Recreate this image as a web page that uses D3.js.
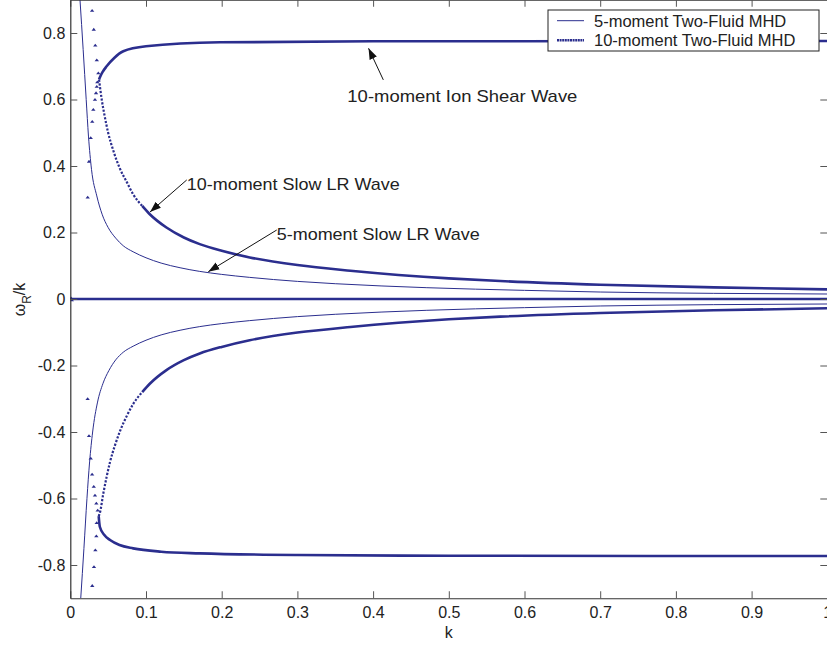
<!DOCTYPE html>
<html>
<head>
<meta charset="utf-8">
<script src="https://cdn.jsdelivr.net/npm/d3@7"></script>
<style>
  html, body { margin: 0; padding: 0; background: #fff; }
  svg { display: block; }
  text { font-family: "Liberation Sans", Arial, sans-serif; fill: #222; }
</style>
</head>
<body>
<svg id="chart" width="827" height="647"></svg>
<script>
// ----------------------------
// Data: [k, omega_R/k]
// ----------------------------
const fiveUpper = [[0.0128,0.9],[0.017,0.75],[0.021,0.6],[0.024,0.49],[0.028,0.39],[0.035,0.31],
  [0.042,0.255],[0.05,0.215],[0.06,0.183],[0.07,0.16],[0.083,0.142],[0.1,0.124],[0.12,0.108],
  [0.145,0.094],[0.171,0.083],[0.2,0.074],[0.237,0.065],[0.3,0.053],[0.35,0.046],[0.471,0.034],
  [0.6,0.026],[0.7,0.021],[0.85,0.017],[1.0,0.015]];
const fiveLower = [[0.0138,-0.9],[0.018,-0.75],[0.022,-0.6],[0.0255,-0.49],[0.0295,-0.40],[0.036,-0.31],
  [0.043,-0.255],[0.051,-0.215],[0.06,-0.183],[0.07,-0.16],[0.083,-0.142],[0.1,-0.124],[0.12,-0.108],
  [0.145,-0.094],[0.171,-0.083],[0.2,-0.074],[0.237,-0.065],[0.3,-0.053],[0.35,-0.046],[0.471,-0.034],
  [0.6,-0.026],[0.7,-0.021],[0.85,-0.017],[1.0,-0.015]];
const fiveZero = [[0,0],[1,0]];

const tenShearUpper = [[0.038,0.66],[0.039,0.666],[0.043,0.684],[0.048,0.70],[0.058,0.725],[0.07,0.745],
  [0.1,0.76],[0.198,0.772],[0.4,0.775],[1.0,0.776]];
const tenShearLower = [[0.0375,-0.653],[0.039,-0.685],[0.045,-0.71],[0.0525,-0.725],[0.065,-0.74],
  [0.083,-0.75],[0.12,-0.76],[0.171,-0.765],[0.3,-0.77],[0.5,-0.772],[1.0,-0.773]];
const tenSlowUpper = [[0.038,0.66],[0.0415,0.60],[0.045,0.555],[0.05,0.50],[0.057,0.445],[0.065,0.395],
  [0.075,0.35],[0.083,0.315],[0.095,0.28],[0.105,0.255],[0.127,0.215],[0.15,0.185],[0.171,0.165],
  [0.2,0.145],[0.237,0.125],[0.3,0.102],[0.37,0.085],[0.5,0.062],[0.568,0.054],[0.7,0.043],
  [0.85,0.035],[1.0,0.029]];
const tenSlowLower = [[0.0375,-0.653],[0.039,-0.644],[0.0436,-0.585],[0.048,-0.535],[0.0525,-0.49],
  [0.059,-0.44],[0.0657,-0.397],[0.075,-0.35],[0.0833,-0.315],[0.095,-0.28],[0.105,-0.255],
  [0.127,-0.214],[0.15,-0.184],[0.171,-0.164],[0.2,-0.144],[0.237,-0.124],[0.3,-0.101],
  [0.37,-0.084],[0.5,-0.061],[0.568,-0.053],[0.7,-0.042],[0.85,-0.034],[1.0,-0.028]];
const tenZero = [[0,0],[1,0]];

// sparse points of the 10-moment run at very small k
const tenDots = [[0.0288,0.868],[0.031,0.811],[0.033,0.763],[0.035,0.719],[0.037,0.68],[0.0357,0.653],
  [0.035,0.639],[0.034,0.62],[0.0326,0.6],[0.0304,0.57],[0.029,0.534],[0.027,0.485],[0.0247,0.414],
  [0.023,0.306],
  [0.0229,-0.30],[0.0247,-0.411],[0.027,-0.479],[0.0288,-0.527],[0.031,-0.564],[0.0326,-0.59],
  [0.0344,-0.614],[0.0362,-0.635],[0.0349,-0.673],[0.0344,-0.713],[0.0331,-0.755],[0.0313,-0.805],
  [0.029,-0.862],[0.001,0.003],[0.002,-0.003]];

// k below which the 10-moment points are spread apart (drawn dotted)
const sparseBelow = 0.09;

const xTicks = [0,0.1,0.2,0.3,0.4,0.5,0.6,0.7,0.8,0.9,1];
const yTicks = [-0.8,-0.6,-0.4,-0.2,0,0.2,0.4,0.6,0.8];

const legendLabels = ["5-moment Two-Fluid MHD", "10-moment Two-Fluid MHD"];

// annotations: tip, tail and text anchor in data units
const notes = [
  { text: "10-moment Ion Shear Wave", tip: [0.394,0.754], tail: [0.4135,0.659], at: [0.366,0.592], w: 230 },
  { text: "10-moment Slow LR Wave",   tip: [0.1053,0.2617], tail: [0.1538,0.358], at: [0.1538,0.329], w: 213 },
  { text: "5-moment Slow LR Wave",    tip: [0.1823,0.0821], tail: [0.2727,0.2075], at: [0.2727,0.176], w: 203 }
];

// ----------------------------
// Plotting
// ----------------------------
const svg = d3.select("#chart");
const blue = "#2b2e8e";

const x = d3.scaleLinear().domain([0, 1]).range([70.3, 827.3]);
const y = d3.scaleLinear().domain([-0.9, 0.9]).range([598.25, -0.25]);

svg.append("defs").append("clipPath").attr("id", "plotclip")
  .append("rect")
    .attr("x", x(0)).attr("y", y(0.9))
    .attr("width", x(1) - x(0)).attr("height", y(-0.9) - y(0.9));

svg.select("defs").append("marker")
    .attr("id", "arrowhead")
    .attr("viewBox", "0 -5 10 10")
    .attr("refX", 10)
    .attr("refY", 0)
    .attr("markerWidth", 11)
    .attr("markerHeight", 11)
    .attr("markerUnits", "userSpaceOnUse")
    .attr("orient", "auto")
  .append("path")
    .attr("d", "M0,-3.6L10,0L0,3.6Z")
    .attr("fill", "#111");

const line = d3.line()
    .x(d => x(d[0]))
    .y(d => y(d[1]))
    .curve(d3.curveMonotoneX);

const plot = svg.append("g").attr("clip-path", "url(#plotclip)");

// 10-moment (thick)
[tenZero, tenShearUpper, tenShearLower].forEach(s => {
  plot.append("path")
      .datum(s)
      .attr("fill", "none")
      .attr("stroke", blue)
      .attr("stroke-width", 2.6)
      .attr("d", line);
});
[tenSlowUpper, tenSlowLower].forEach(s => {
  // steep part: sparse points
  plot.append("path")
      .datum(s.filter(d => d[0] <= sparseBelow + 0.006))
      .attr("fill", "none")
      .attr("stroke", blue)
      .attr("stroke-width", 2.2)
      .attr("stroke-dasharray", "2.2,1.6")
      .attr("d", line);
  plot.append("path")
      .datum(s.filter(d => d[0] >= sparseBelow))
      .attr("fill", "none")
      .attr("stroke", blue)
      .attr("stroke-width", 2.6)
      .attr("d", line);
});

plot.selectAll("path.dot")
  .data(tenDots)
  .join("path")
    .attr("class", "dot")
    .attr("transform", d => `translate(${x(d[0])},${y(d[1])})`)
    .attr("d", "M-2.2,1.3L0,-1.5L2.2,1.3Z")
    .attr("fill", blue);

// 5-moment (thin)
[fiveZero, fiveUpper, fiveLower].forEach(s => {
  plot.append("path")
      .datum(s)
      .attr("fill", "none")
      .attr("stroke", blue)
      .attr("stroke-width", 1)
      .attr("d", line);
});

// Axes
const fmt = d => d === 0 ? "0" : (d === 1 ? "1" : d3.format(".1f")(d).replace("\u2212", "-"));

const axB = svg.append("g").attr("transform", `translate(0,${y(-0.9)})`)
  .call(d3.axisBottom(x).tickValues(xTicks).tickFormat(fmt).tickSizeInner(-7).tickSizeOuter(0).tickPadding(8));
const axT = svg.append("g").attr("transform", `translate(0,${y(0.9)})`)
  .call(d3.axisTop(x).tickValues(xTicks).tickFormat("").tickSizeInner(-7).tickSizeOuter(0));
const axL = svg.append("g").attr("transform", `translate(${x(0)},0)`)
  .call(d3.axisLeft(y).tickValues(yTicks).tickFormat(fmt).tickSizeInner(-7).tickSizeOuter(0).tickPadding(5));
const axR = svg.append("g").attr("transform", `translate(${x(1)},0)`)
  .call(d3.axisRight(y).tickValues(yTicks).tickFormat("").tickSizeInner(-7).tickSizeOuter(0));

[axB, axT, axL, axR].forEach(a => {
  a.select(".domain").attr("stroke", "#333").attr("stroke-width", 1.2);
  a.selectAll(".tick line").attr("stroke", "#555");
  a.selectAll("text").attr("font-size", 16).attr("fill", "#222")
    .attr("font-family", "'Liberation Sans', Arial, sans-serif");
});

// axis titles
svg.append("text")
    .attr("x", x(0.5))
    .attr("y", 638)
    .attr("text-anchor", "middle")
    .attr("font-size", 16)
    .text("k");

const yl = svg.append("text")
    .attr("transform", "translate(25,299.5) rotate(-90)")
    .attr("text-anchor", "middle")
    .attr("font-size", 16);
yl.append("tspan").text("\u03c9");
yl.append("tspan").attr("font-size", 12).attr("dy", 6).text("R");
yl.append("tspan").attr("dy", -6).text("/k");

// annotations
notes.forEach(n => {
  svg.append("line")
      .attr("x1", x(n.tail[0])).attr("y1", y(n.tail[1]))
      .attr("x2", x(n.tip[0])).attr("y2", y(n.tip[1]))
      .attr("stroke", "#111")
      .attr("stroke-width", 1)
      .attr("marker-end", "url(#arrowhead)");
  svg.append("text")
      .attr("x", x(n.at[0]))
      .attr("y", y(n.at[1]))
      .attr("font-size", 17)
      .attr("textLength", n.w)
      .attr("lengthAdjust", "spacingAndGlyphs")
      .attr("fill", "#222")
      .text(n.text);
});

// Legend
const lg = svg.append("g").attr("transform", "translate(548,10)");
lg.append("rect")
    .attr("width", 271).attr("height", 41)
    .attr("fill", "#fff").attr("stroke", "#222").attr("stroke-width", 1);
legendLabels.forEach((lab, i) => {
  const yy = 10.7 + i * 19.5;
  lg.append("line")
      .attr("x1", 9).attr("x2", 36)
      .attr("y1", yy).attr("y2", yy)
      .attr("stroke", blue)
      .attr("stroke-width", i === 0 ? 1 : 2.4)
      .attr("stroke-dasharray", i === 0 ? null : "2,0.6");
  lg.append("text")
      .attr("x", 46)
      .attr("y", yy + 5.8)
      .attr("font-size", 16.5)
      .text(lab);
});
</script>
</body>
</html>
